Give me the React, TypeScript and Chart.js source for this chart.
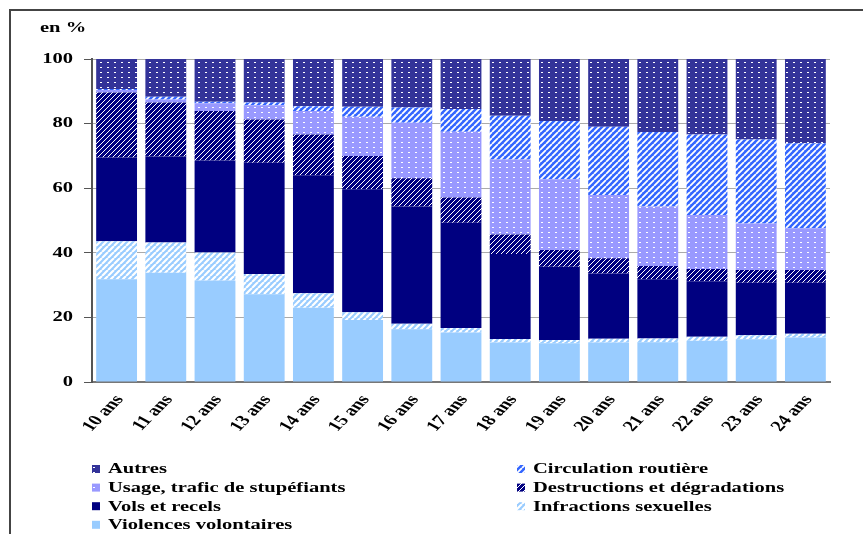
import React, { useEffect, useRef } from 'react';
import { Chart, registerables } from 'chart.js';
Chart.register(...registerables);

const categories = ['10 ans', '11 ans', '12 ans', '13 ans', '14 ans', '15 ans', '16 ans', '17 ans', '18 ans', '19 ans', '20 ans', '21 ans', '22 ans', '23 ans', '24 ans'];
const violences = [31.8, 33.8, 31.4, 27.2, 23.0, 19.2, 16.3, 15.3, 12.2, 12.0, 12.2, 12.3, 12.8, 13.2, 13.8];
const infractions = [11.8, 9.4, 8.7, 6.2, 4.5, 2.4, 1.7, 1.4, 1.1, 1.0, 1.2, 1.2, 1.2, 1.3, 1.1];
const vols = [25.9, 26.6, 28.5, 34.5, 36.5, 38.1, 36.3, 32.6, 26.3, 22.7, 20.2, 18.3, 17.2, 16.2, 15.8];
const destructions = [20.1, 16.7, 15.3, 13.4, 12.6, 10.3, 8.8, 7.8, 6.1, 5.2, 4.7, 4.1, 3.8, 4.0, 4.0];
const usage = [0.8, 1.0, 2.4, 4.4, 7.3, 12.1, 17.2, 20.4, 23.2, 21.9, 19.6, 18.4, 16.7, 14.4, 12.9];
const circulation = [0.3, 0.8, 0.5, 0.8, 1.5, 3.1, 4.7, 7.0, 13.5, 18.0, 21.1, 23.1, 24.9, 26.0, 26.3];
const autres = [9.3, 11.7, 13.2, 13.5, 14.6, 14.8, 15.0, 15.5, 17.6, 19.2, 21.0, 22.6, 23.4, 24.9, 26.1];
const yTicks = [0, 20, 40, 60, 80, 100];
const unitLabel = 'en %';

const SX = 1.37;
const FONT = 'bold 15px "Liberation Serif", "Times New Roman", serif';

function stripes(bg: string, fg: string, size: number, lw: number) {
  const c = document.createElement('canvas');
  c.width = size; c.height = size;
  const x = c.getContext('2d')!;
  x.fillStyle = bg; x.fillRect(0, 0, size, size);
  x.strokeStyle = fg; x.lineWidth = lw;
  x.beginPath();
  for (const o of [-size, 0, size]) { x.moveTo(o, size); x.lineTo(o + size, 0); }
  x.stroke();
  return x.createPattern(c, 'repeat')!;
}
function dots(bg: string, fg: string, w: number, h: number) {
  const c = document.createElement('canvas');
  c.width = w; c.height = h;
  const x = c.getContext('2d')!;
  x.fillStyle = bg; x.fillRect(0, 0, w, h);
  x.fillStyle = fg; x.fillRect(2, 2, 2, 1);
  return x.createPattern(c, 'repeat')!;
}

function drawText(ctx: CanvasRenderingContext2D, t: string, x: number, y: number, align: CanvasTextAlign, base: CanvasTextBaseline, angle = 0) {
  ctx.save();
  ctx.translate(x, y);
  ctx.scale(SX, 1);
  if (angle) ctx.rotate(angle);
  ctx.font = FONT;
  ctx.fillStyle = '#000';
  ctx.textAlign = align;
  ctx.textBaseline = base;
  ctx.fillText(t, 0, 0);
  ctx.restore();
}

export default function App() {
  const ref = useRef<HTMLCanvasElement>(null);
  useEffect(() => {
    const pViol = '#99ccff';
    const pInfr = stripes('#99ccff', '#ffffff', 6, 2.2);
    const pVols = '#000080';
    const pDest = stripes('#000080', '#ffffff', 5, 1);
    const pUsage = dots('#9999ff', '#ffffff', 7, 5);
    const pCirc = stripes('#3366ff', '#ffffff', 6, 1.8);
    const pAutres = dots('#333399', '#ffffff', 7, 5);

    const datasets = [
      { label: 'Violences volontaires', data: violences, backgroundColor: pViol },
      { label: 'Infractions sexuelles', data: infractions, backgroundColor: pInfr },
      { label: 'Vols et recels', data: vols, backgroundColor: pVols },
      { label: 'Destructions et dégradations', data: destructions, backgroundColor: pDest },
      { label: 'Usage, trafic de stupéfiants', data: usage, backgroundColor: pUsage },
      { label: 'Circulation routière', data: circulation, backgroundColor: pCirc },
      { label: 'Autres', data: autres, backgroundColor: pAutres },
    ].map(d => ({ ...d, borderWidth: 0, barPercentage: 0.83, categoryPercentage: 1 }));

    const textPlugin = {
      id: 'texts',
      afterDraw(chart: any) {
        const ctx: CanvasRenderingContext2D = chart.ctx;
        // frame
        ctx.save();
        ctx.strokeStyle = '#444';
        ctx.lineWidth = 2;
        ctx.beginPath();
        ctx.moveTo(10, 534); ctx.lineTo(10, 10); ctx.lineTo(863, 10);
        ctx.stroke();
        ctx.restore();
        // unit label
        drawText(ctx, unitLabel, 40, 28, 'left', 'middle');
        // y tick labels
        const ys = chart.scales.y;
        yTicks.forEach(t => drawText(ctx, String(t), 73, ys.getPixelForValue(t), 'right', 'middle'));
        // x labels
        const xs = chart.scales.x;
        categories.forEach((c, i) => {
          drawText(ctx, c, xs.getPixelForValue(i) + 3, 397, 'right', 'middle', -54 * Math.PI / 180);
        });
        // legend
        const order = [6, 5, 4, 3, 2, 1, 0];
        order.forEach((di, k) => {
          const col = k % 2, row = Math.floor(k / 2);
          const bx = col ? 517 : 92;
          const by = 465 + row * 18.6;
          const ds = chart.data.datasets[di];
          ctx.save();
          ctx.fillStyle = ds.backgroundColor;
          ctx.fillRect(bx, by, 8, 8);
          ctx.restore();
          drawText(ctx, ds.label, bx + 16, by + 4.5, 'left', 'middle');
        });
      },
    };

    const chart = new Chart(ref.current!, {
      type: 'bar',
      data: { labels: categories, datasets: datasets as any },
      options: {
        animation: false,
        responsive: false,
        layout: { padding: { left: 84, right: 33, top: 59, bottom: 152 } },
        plugins: { legend: { display: false }, tooltip: { enabled: false }, title: { display: false } },
        scales: {
          x: {
            stacked: true,
            grid: { display: false, drawTicks: false },
            border: { display: true, color: '#777', width: 2 },
            ticks: { display: false },
          },
          y: {
            stacked: true,
            min: 0,
            max: 100,
            ticks: { display: false, stepSize: 20 },
            grid: { color: '#aaa', lineWidth: 1, tickLength: 8, tickColor: '#555', drawTicks: true },
            border: { display: true, color: '#555', width: 2 },
          },
        },
      },
      plugins: [textPlugin],
    });
    return () => chart.destroy();
  }, []);
  return (
    <div style={{ position: 'fixed', left: 0, top: 0, width: 863, height: 534, background: '#fff' }}>
      <canvas ref={ref} width={863} height={534} style={{ display: 'block' }} />
    </div>
  );
}
